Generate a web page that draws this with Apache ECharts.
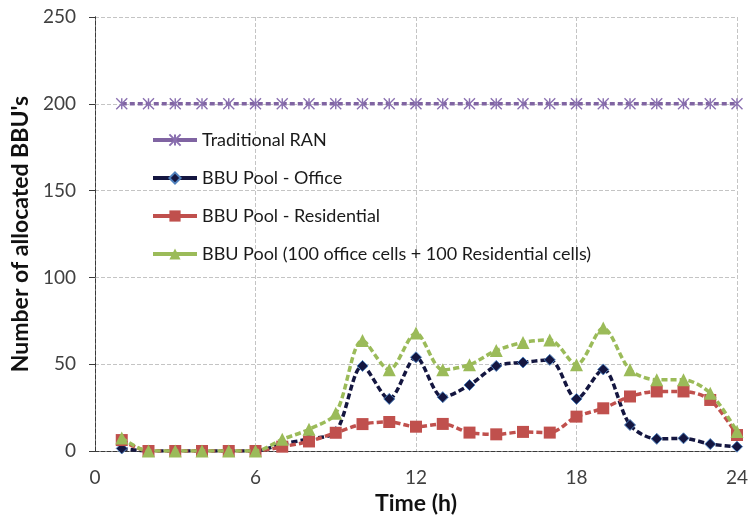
<!DOCTYPE html>
<html>
<head>
<meta charset="utf-8">
<script src="https://cdn.jsdelivr.net/npm/echarts@6/dist/echarts.min.js"></script>
<style>
  html, body { margin: 0; padding: 0; background: #fff; }
  #chart { width: 749px; height: 518px; }
</style>
</head>
<body>
<div id="chart"></div>
<script>
// Hour of day (x values)
const hours = [1, 2, 3, 4, 5, 6, 7, 8, 9, 10, 11, 12, 13, 14, 15, 16, 17, 18, 19, 20, 21, 22, 23, 24];

// Allocated BBUs per scenario
const traditionalRan = [200, 200, 200, 200, 200, 200, 200, 200, 200, 200, 200, 200,
                        200, 200, 200, 200, 200, 200, 200, 200, 200, 200, 200, 200];
const poolOffice = [1.5, 0, 0, 0, 0, 0, 4, 7, 11, 49, 30, 54,
                    31, 38, 49, 51, 52.5, 30, 47, 15, 7, 7.3, 4, 2.5];
const poolResidential = [6.3, 0, 0, 0, 0, 0, 2.5, 5.5, 10.5, 15.5, 16.7, 14,
                         15.6, 10.6, 9.6, 11, 10.6, 19.8, 24.6, 31.4, 34.3, 34.3, 29.4, 9.2];
const poolCombined = [7.5, 0, 0, 0, 0, 0, 6.7, 12.5, 21.7, 63.7, 46.8, 68,
                      46.8, 49.7, 57.9, 62.5, 64, 49.7, 70.8, 46.8, 41, 41, 33.3, 11.2];

const seriesNames = [
  'Traditional RAN',
  'BBU Pool - Office',
  'BBU Pool - Residential',
  'BBU Pool (100 office cells + 100 Residential cells)'
];

const xTicks = { min: 0, max: 24, interval: 6 };
const yTicks = { min: 0, max: 250, interval: 50 };

const pair = (ys) => hours.map((h, i) => [h, ys[i]]);

const FONT = 'Lato, "Liberation Sans", sans-serif';
const AXIS_DARK = '#3a3a3a';
const GRID_GREY = '#c4c4c4';

const starPath = 'path://M0,0L10,10M10,0L0,10M5,0L5,10';

const chart = echarts.init(document.getElementById('chart'), null, { renderer: 'canvas' });

chart.setOption({
  backgroundColor: '#ffffff',
  animation: false,
  grid: { left: 95, right: 12, top: 17, bottom: 67, containLabel: false, outerBoundsMode: 'none' },
  legend: {
    orient: 'vertical',
    left: 146,
    top: 126,
    itemWidth: 44,
    itemHeight: 14,
    itemGap: 20,
    data: seriesNames,
    textStyle: { fontFamily: FONT, fontSize: 18, color: '#1a1a1a', lineHeight: 17 },
    lineStyle: { width: 4, type: 'solid' }
  },
  xAxis: [{
    type: 'value',
    min: xTicks.min, max: xTicks.max, interval: xTicks.interval,
    name: 'Time (h)',
    nameLocation: 'middle',
    nameGap: 39,
    nameTextStyle: { fontFamily: FONT, fontSize: 23, fontWeight: 'bold', color: '#111' },
    axisLine: { show: true, lineStyle: { color: AXIS_DARK, type: 'dashed', width: 1 } },
    axisTick: { show: false },
    axisLabel: { fontFamily: FONT, fontSize: 19, color: '#404040', margin: 17 },
    splitLine: { show: true, lineStyle: { color: GRID_GREY, type: 'dashed', width: 1 } }
  }, {
    type: 'value', position: 'top',
    min: xTicks.min, max: xTicks.max, interval: xTicks.interval,
    axisLine: { show: true, lineStyle: { color: AXIS_DARK, type: 'dashed', width: 1 } },
    axisTick: { show: false }, axisLabel: { show: false }, splitLine: { show: false }
  }],
  yAxis: [{
    type: 'value',
    min: yTicks.min, max: yTicks.max, interval: yTicks.interval,
    name: "Number of allocated BBU's",
    nameLocation: 'middle',
    nameGap: 53,
    nameTextStyle: { fontFamily: FONT, fontSize: 23, fontWeight: 'bold', color: '#111' },
    axisLine: { show: true, lineStyle: { color: AXIS_DARK, type: 'dashed', width: 1 } },
    axisTick: { show: true, length: 6, lineStyle: { color: AXIS_DARK } },
    axisLabel: { fontFamily: FONT, fontSize: 19, color: '#404040', margin: 19 },
    splitLine: { show: true, lineStyle: { color: GRID_GREY, type: 'dashed', width: 1 } }
  }, {
    type: 'value', position: 'right',
    min: yTicks.min, max: yTicks.max, interval: yTicks.interval,
    axisLine: { show: true, lineStyle: { color: AXIS_DARK, type: 'dashed', width: 1 } },
    axisTick: { show: false }, axisLabel: { show: false }, splitLine: { show: false }
  }],
  series: [
    {
      name: seriesNames[0], type: 'line', data: pair(traditionalRan),
      symbol: starPath, symbolSize: 11,
      itemStyle: { color: '#8064a2', borderColor: '#8a70b0', borderWidth: 1.4 },
      lineStyle: { color: '#8064a2', width: 3.5, type: [5, 3] },
      z: 2
    },
    {
      name: seriesNames[1], type: 'line', data: pair(poolOffice), smooth: 0.3,
      symbol: 'diamond', symbolSize: 11,
      itemStyle: { color: '#141640', borderColor: '#4f81bd', borderWidth: 1 },
      lineStyle: { color: '#141640', width: 3.5, type: [6, 3] },
      z: 3
    },
    {
      name: seriesNames[2], type: 'line', data: pair(poolResidential), smooth: 0.3,
      symbol: 'rect', symbolSize: 12,
      itemStyle: { color: '#c0504d', borderColor: '#c0504d', borderWidth: 0 },
      lineStyle: { color: '#c0504d', width: 3.5, type: [6, 3] },
      z: 4
    },
    {
      name: seriesNames[3], type: 'line', data: pair(poolCombined), smooth: 0.3,
      symbol: 'triangle', symbolSize: 13,
      itemStyle: { color: '#9bbb59', borderColor: '#9bbb59', borderWidth: 0 },
      lineStyle: { color: '#9bbb59', width: 3.5, type: [6, 3] },
      z: 5
    }
  ]
});
</script>
</body>
</html>
